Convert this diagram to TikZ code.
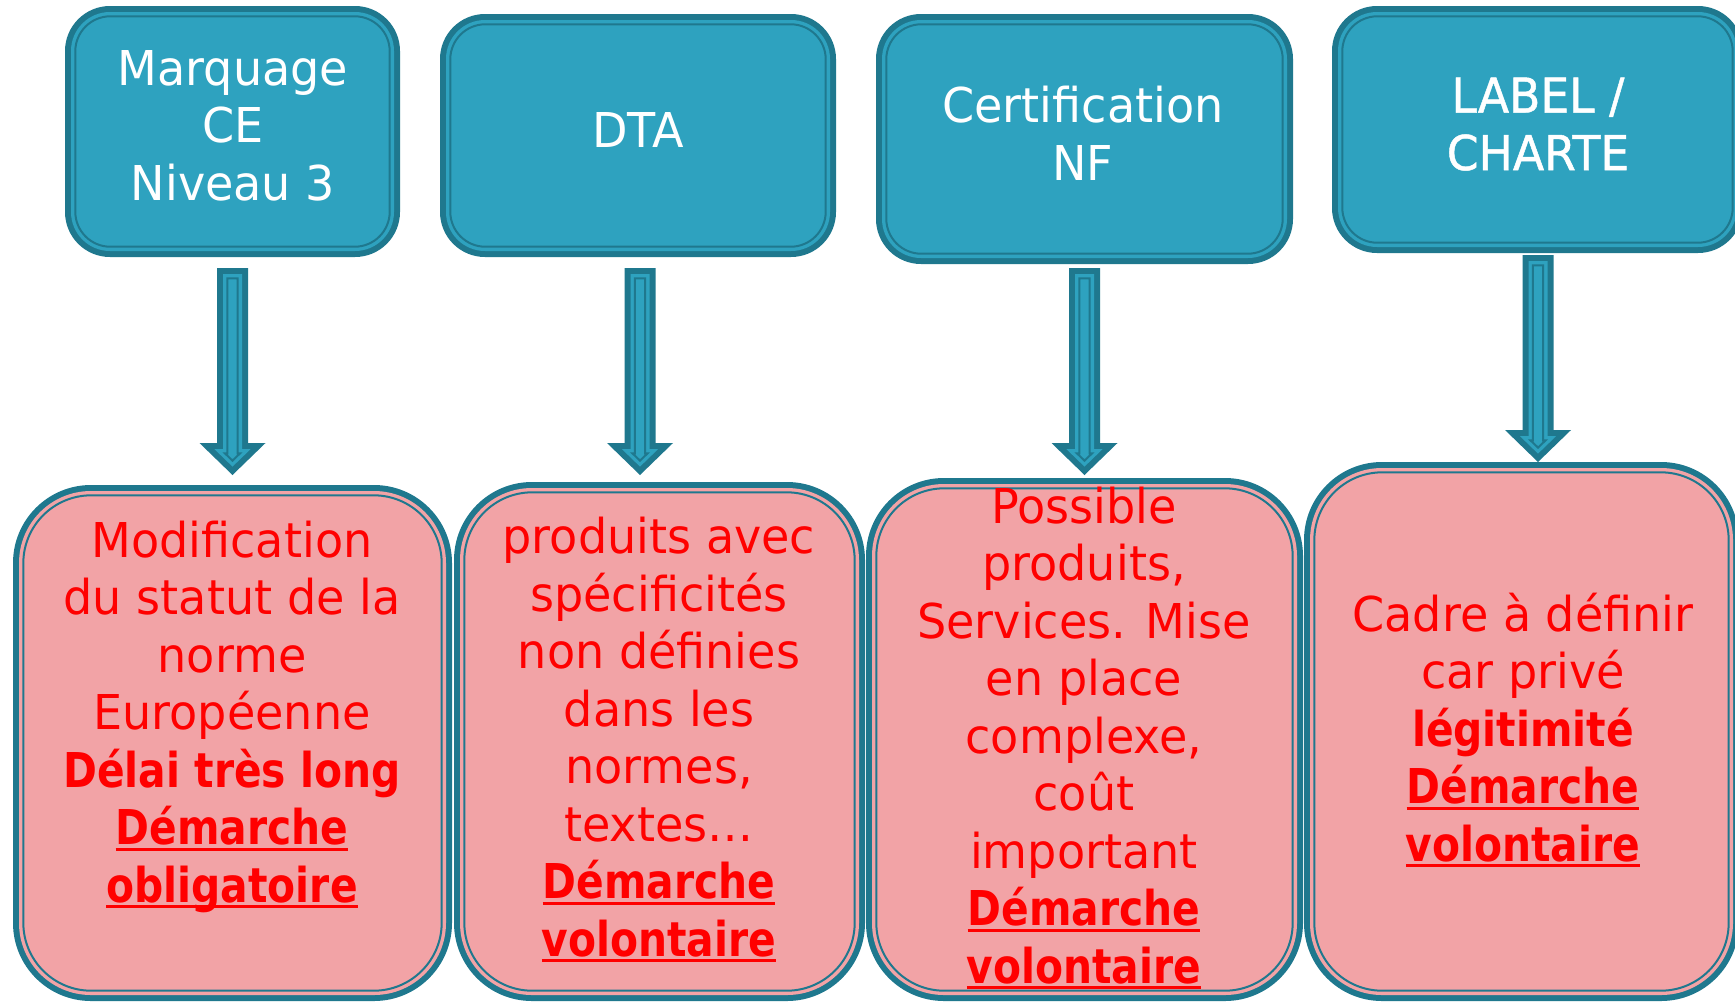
\documentclass[tikz,border=0pt]{standalone}
\usepackage{fontspec}
\newfontfamily\regf{DejaVu Sans}[FakeStretch=0.96]
\newfontfamily\semif{DejaVu Sans}[FakeStretch=0.95,FakeBold=1]
\newfontfamily\boldf{DejaVu Sans Bold}[FakeStretch=0.85]
\definecolor{ringdark}{RGB}{31,120,142}
\definecolor{tealfill}{RGB}{46,162,191}
\definecolor{pinkfill}{RGB}{242,163,166}
\definecolor{txtred}{RGB}{255,0,0}
\newcommand\ulx[1]{\sbox0{#1}\rlap{\rule[-3.2pt]{\wd0}{1.5pt}}\usebox0}
% #1 x1, #2 y1, #3 x2, #4 y2, #5 R (pt), #6 R-6px (pt), #7 R-10px (pt), #8 fill
\newcommand\ringbox[8]{%
  \fill[ringdark, rounded corners=#5] (#1,#2) rectangle (#3,#4);
  \fill[#8, rounded corners=#6] ({#1+6},{#2+6}) rectangle ({#3-6},{#4-6});
  \draw[ringdark, line width=1pt, fill=#8, rounded corners=#7] ({#1+10.3},{#2+10.3}) rectangle ({#3-10.3},{#4-10.3});
}
\newcommand\blockarrow[1]{%
  \begin{scope}[shift={(#1)}]
    \fill[ringdark] (-15.5,0) -- (15.5,0) -- (15.5,175) -- (33,175) -- (0,207) -- (-33,175) -- (-15.5,175) -- cycle;
    \fill[tealfill] (-9.5,6) -- (9.5,6) -- (9.5,181) -- (18.2,181) -- (0,198.6) -- (-18.2,181) -- (-9.5,181) -- cycle;
    \draw[ringdark, line width=1pt, fill=tealfill, line join=miter] (-5.2,10.3) -- (5.2,10.3) -- (5.2,185.3) -- (7.6,185.3) -- (0,192.6) -- (-7.6,185.3) -- (-5.2,185.3) -- cycle;
  \end{scope}
}
\tikzset{
  toptext/.style={font={\regf\fontsize{24}{28.75}\selectfont}, text=white, align=center, inner sep=0pt, anchor=base},
  bottext/.style={font={\regf\fontsize{24}{28.75}\selectfont}, text=txtred, align=center, inner sep=0pt, anchor=base},
}
\begin{document}
\begin{tikzpicture}[x=0.5pt,y=-0.5pt]
\useasboundingbox (0,0) rectangle (1735,1003);
\clip (0,0) rectangle (1735,1003);
\fill[white] (0,0) rectangle (1735,1003);
% top boxes
\ringbox{65}{6}{400}{257}{22.5pt}{19.5pt}{17.5pt}{tealfill}
\ringbox{440}{14}{836}{257}{22.5pt}{19.5pt}{17.5pt}{tealfill}
\ringbox{876}{14}{1293}{264}{22.5pt}{19.5pt}{17.5pt}{tealfill}
\ringbox{1332}{6}{1743}{253}{22.5pt}{19.5pt}{17.5pt}{tealfill}
% bottom boxes
\ringbox{13}{485}{452}{1001}{39pt}{36pt}{34pt}{pinkfill}
\ringbox{454}{482}{865}{1001}{39pt}{36pt}{34pt}{pinkfill}
\ringbox{866}{478}{1303}{1001}{39pt}{36pt}{34pt}{pinkfill}
\ringbox{1304}{462}{1739}{1001}{39pt}{36pt}{34pt}{pinkfill}
% texts (anchor = baseline of last line)
\node[toptext] (t1) at (233,200) {Marquage\\CE\\Niveau 3};
\node[toptext] (t2) at (638,147) {DTA};
\node[toptext] (t3) at (1083,180) {Certification\\NF};
\node[toptext, font={\semif\fontsize{24}{28.75}\selectfont}] (t4) at (1538,170) {LABEL /\\CHARTE};
\node[bottext] (b1) at (232,902) {Modification\\du statut de la\\norme\\Européenne\\{\boldf Délai très long}\\{\boldf\ulx{Démarche}}\\{\boldf\ulx{obligatoire}}};
\node[bottext] (b2) at (659,956) {produits avec\\spécificités\\non définies\\dans les\\normes,\\textes…\\{\boldf\ulx{Démarche}}\\{\boldf\ulx{volontaire}}};
\node[bottext] (b3) at (1084,983) {Possible\\produits,\\Services. Mise\\en place\\complexe,\\coût\\important\\{\boldf\ulx{Démarche}}\\{\boldf\ulx{volontaire}}};
\node[bottext] (b4) at (1523,861) {Cadre à définir\\car privé\\{\boldf légitimité}\\{\boldf\ulx{Démarche}}\\{\boldf\ulx{volontaire}}};
% arrows
\coordinate (a1s) at (232.5,268);
\coordinate (a2s) at (640,268);
\coordinate (a3s) at (1084.5,268);
\coordinate (a4s) at (1538,255);
\blockarrow{a1s}
\blockarrow{a2s}
\blockarrow{a3s}
\blockarrow{a4s}
\end{tikzpicture}
\end{document}
